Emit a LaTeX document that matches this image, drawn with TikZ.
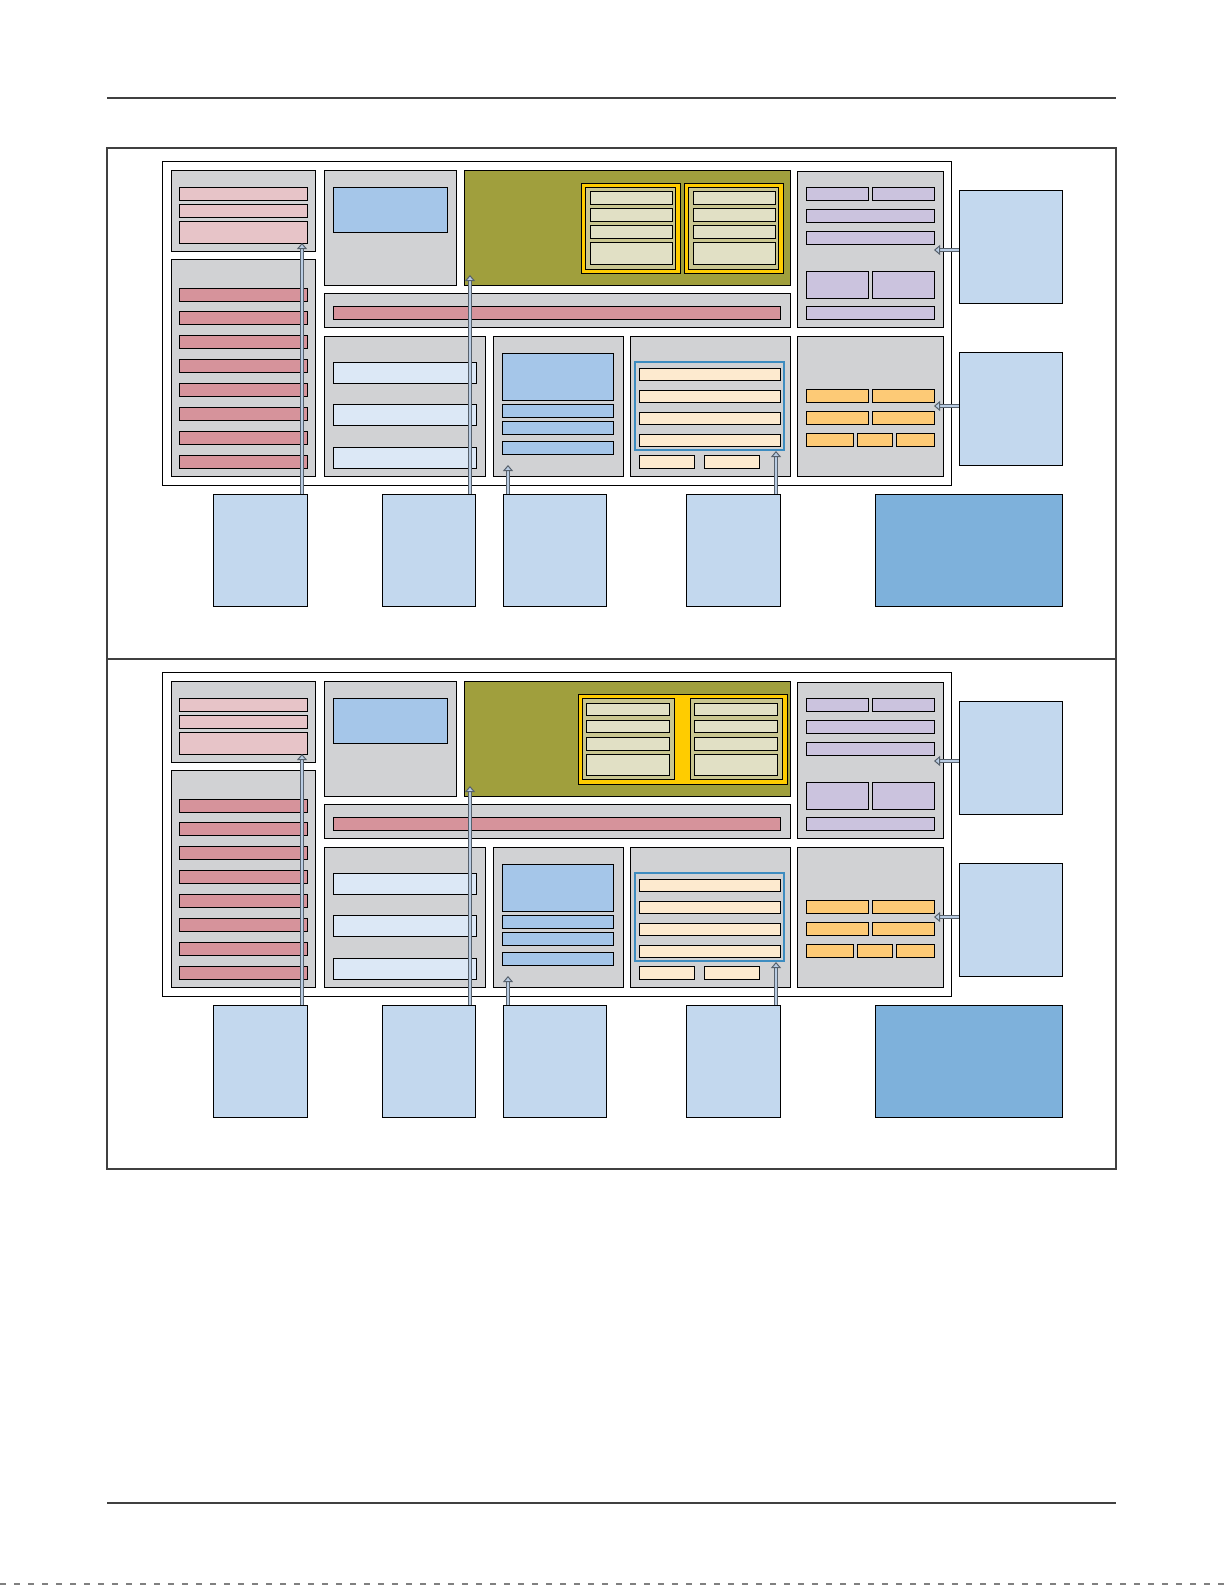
\documentclass[tikz,border=0pt]{standalone}
\usetikzlibrary{fit,arrows.meta}
\tikzset{>=latex}
\definecolor{frameline}{HTML}{404040}
\definecolor{baygray}{HTML}{D1D2D4}
\definecolor{roselt}{HTML}{E7C4C8}
\definecolor{rosedk}{HTML}{D6939B}
\definecolor{skymid}{HTML}{A5C6E9}
\definecolor{skylt}{HTML}{DCE8F6}
\definecolor{corebg}{HTML}{A09F3D}
\definecolor{coreyel}{HTML}{FFCC00}
\definecolor{corekhaki}{HTML}{C9C690}
\definecolor{corecell}{HTML}{E1E0C5}
\definecolor{peach}{HTML}{FDEACF}
\definecolor{peachedge}{HTML}{3D8CC0}
\definecolor{lilac}{HTML}{CBC3DE}
\definecolor{amber}{HTML}{FDCA76}
\definecolor{extblue}{HTML}{C3D8EE}
\definecolor{extdark}{HTML}{7EB1DB}
\definecolor{feedfill}{HTML}{B9CCE3}
\definecolor{feededge}{HTML}{56606B}
\newcommand{\blk}[6][]{\node[blk,#1,fit={(#3,#4+\oy) (#5,#6+\oy)}] (#2) {};}

\begin{document}
\begin{tikzpicture}[x=0.5pt,y=-0.5pt,
    blk/.style={draw=black,line width=0.5pt,inner sep=0pt,outer sep=0pt,rectangle},
    bay/.style={fill=baygray},
    rosebar/.style={fill=roselt},
    redbar/.style={fill=rosedk},
    skybox/.style={fill=skymid},
    palebar/.style={fill=skylt},
    corebox/.style={fill=corebg},
    yelbox/.style={fill=coreyel},
    khakibox/.style={fill=corekhaki},
    cellbar/.style={fill=corecell},
    peachbar/.style={fill=peach},
    lilacbar/.style={fill=lilac},
    amberbar/.style={fill=amber},
    extbox/.style={fill=extblue},
    extbig/.style={fill=extdark},
    feed/.style={draw=feededge,line width=0.4pt,double=feedfill,double distance=1.1pt,
      -{Triangle[length=3pt,width=5pt,fill=feedfill,line width=0.5pt]}}]
  \useasboundingbox (0,0) rectangle (1225,1585);
  % page rules and frame
  \draw[frameline,line width=1pt] (107,97.5) -- (1116,97.5);
  \draw[frameline,line width=1pt] (107,1503) -- (1116,1503);
  \draw[frameline,line width=0.8pt] (107,148) rectangle (1116,1169);
  \draw[frameline,line width=0.8pt] (107,659) -- (1116,659);
  \draw[gray,line width=0.6pt,dash pattern=on 3pt off 4pt] (0,1584) -- (1225,1584);
  \foreach \p/\oy in {1/0,2/511} {
    % chip outline
    \blk[fill=white]{chip\p}{162}{161}{951}{485}
    % left column
    \blk[bay]{cfg\p}{171}{170}{315}{251}
    \blk[rosebar]{cfg\p-a}{179}{187}{307}{200}
    \blk[rosebar]{cfg\p-b}{179}{204}{307}{217}
    \blk[rosebar]{cfg\p-c}{179}{221}{307}{243}
    \blk[bay]{bank\p}{171}{259}{315}{476}
    \foreach \i in {0,...,7} {
      \blk[redbar]{bank\p-\i}{179}{288+23.9*\i}{307}{301+23.9*\i}
    }
    % upper middle
    \blk[bay]{ram\p}{324}{170}{456}{285}
    \blk[skybox]{ram\p-a}{333}{187}{447}{232}
    \blk[corebox]{core\p}{464}{170}{790}{285}
    \ifnum\p=1
      \foreach \n/\xa/\xb in {a/581/680,b/684/783} {
        \blk[yelbox]{cpu\p\n}{\xa}{183}{\xb}{273}
        \blk[khakibox]{cpu\p\n-in}{\xa+4.5}{187.5}{\xb-4.5}{269}
        \blk[cellbar]{cpu\p\n-0}{\xa+9}{191}{\xb-8}{204}
        \blk[cellbar]{cpu\p\n-1}{\xa+9}{208}{\xb-8}{221}
        \blk[cellbar]{cpu\p\n-2}{\xa+9}{225}{\xb-8}{238}
        \blk[cellbar]{cpu\p\n-3}{\xa+9}{242}{\xb-8}{264}
      }
    \else
      \blk[yelbox]{cpu\p}{578}{183}{787}{273}
      \foreach \n/\xa/\xb in {a/582/674,b/690/782} {
        \blk[khakibox]{cpu\p\n-in}{\xa}{187}{\xb}{268}
        \blk[cellbar]{cpu\p\n-0}{\xa+4}{192}{\xb-5}{204}
        \blk[cellbar]{cpu\p\n-1}{\xa+4}{209}{\xb-5}{221}
        \blk[cellbar]{cpu\p\n-2}{\xa+4}{226.5}{\xb-5}{239}
        \blk[cellbar]{cpu\p\n-3}{\xa+4}{243}{\xb-5}{264.5}
      }
    \fi
    \blk[bay]{bus\p}{324}{293}{790}{327}
    \blk[redbar]{bus\p-a}{333}{306}{780}{319}
    % lower middle
    \blk[bay]{dma\p}{324}{336}{485}{476}
    \blk[palebar]{dma\p-a}{333}{362}{476}{383}
    \blk[palebar]{dma\p-b}{333}{404}{476}{425}
    \blk[palebar]{dma\p-c}{333}{447}{476}{468}
    \blk[bay]{mem\p}{493}{336}{623}{476}
    \blk[skybox]{mem\p-a}{502}{353}{613}{400}
    \blk[skybox]{mem\p-b}{502}{404}{613}{417}
    \blk[skybox]{mem\p-c}{502}{421}{613}{434}
    \blk[skybox]{mem\p-d}{502}{441}{613}{454}
    \blk[bay]{io\p}{630}{336}{790}{476}
    \blk[draw=peachedge,line width=0.7pt]{io\p-grp}{635}{362}{784}{450}
    \foreach \i/\ya in {0/368,1/390,2/412,3/434} {
      \blk[peachbar]{io\p-\i}{639}{\ya}{780}{\ya+12.5}
    }
    \blk[peachbar]{io\p-e}{639}{455}{694}{468}
    \blk[peachbar]{io\p-f}{704}{455}{759}{468}
    % right column
    \blk[bay]{sys\p}{797}{171}{943}{327}
    \blk[lilacbar]{sys\p-a}{806}{187}{868}{200}
    \blk[lilacbar]{sys\p-b}{872}{187}{934}{200}
    \blk[lilacbar]{sys\p-c}{806}{209}{934}{222}
    \blk[lilacbar]{sys\p-d}{806}{231}{934}{244}
    \blk[lilacbar]{sys\p-e}{806}{271}{868}{298}
    \blk[lilacbar]{sys\p-f}{872}{271}{934}{298}
    \blk[lilacbar]{sys\p-g}{806}{306}{934}{319}
    \blk[bay]{pwr\p}{797}{336}{943}{476}
    \blk[amberbar]{pwr\p-a}{806}{389}{868}{402}
    \blk[amberbar]{pwr\p-b}{872}{389}{934}{402}
    \blk[amberbar]{pwr\p-c}{806}{411}{868}{424}
    \blk[amberbar]{pwr\p-d}{872}{411}{934}{424}
    \blk[amberbar]{pwr\p-e}{806}{433}{853}{446}
    \blk[amberbar]{pwr\p-f}{857}{433}{892}{446}
    \blk[amberbar]{pwr\p-g}{896}{433}{934}{446}
    % outside blocks
    \blk[extbox]{extA\p}{959}{190}{1062}{303}
    \blk[extbox]{extB\p}{959}{352}{1062}{465}
    \blk[extbox]{inA\p}{213}{494}{307}{606}
    \blk[extbox]{inB\p}{382}{494}{475}{606}
    \blk[extbox]{inC\p}{503}{494}{606}{606}
    \blk[extbox]{inD\p}{686}{494}{780}{606}
    \blk[extbig]{host\p}{875}{494}{1062}{606}
    % feeds
    \coordinate (tipA\p) at (302,243+\oy);
    \coordinate (tipB\p) at (470,275+\oy);
    \coordinate (tipC\p) at (508,465+\oy);
    \coordinate (tipD\p) at (776,451+\oy);
    \coordinate (tipE\p) at (934,250+\oy);
    \coordinate (tipF\p) at (934,406+\oy);
    \draw[feed] (inA\p.north -| tipA\p) -- (tipA\p);
    \draw[feed] (inB\p.north -| tipB\p) -- (tipB\p);
    \draw[feed] (inC\p.north -| tipC\p) -- (tipC\p);
    \draw[feed] (inD\p.north -| tipD\p) -- (tipD\p);
    \draw[feed] (extA\p.west |- tipE\p) -- (tipE\p);
    \draw[feed] (extB\p.west |- tipF\p) -- (tipF\p);
  }
\end{tikzpicture}
\end{document}
